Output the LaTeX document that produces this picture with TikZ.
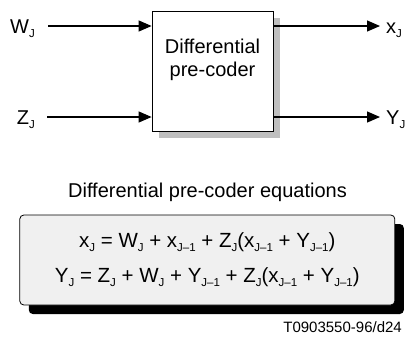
\documentclass[tikz,border=0pt]{standalone}
\usepackage{fontspec}
\setmainfont{Liberation Sans}
\usepackage{tikz}
\usetikzlibrary{positioning,calc,arrows.meta,shadows}
\tikzset{>={Triangle[length=13pt,width=11pt]}}
\newcommand*{\idx}[1]{\raisebox{-4pt}{\fontsize{11.5}{11.5}\selectfont #1}}

\begin{document}
\begin{tikzpicture}[x=1pt,y=-1pt,
  font=\fontsize{20}{23}\selectfont,
  sig/.style={->,line width=1.2pt},
  lbl/.style={inner sep=0pt,text height=14pt,text depth=0pt},
  coderbox/.style={draw,line width=0.8pt,fill=white,minimum width=121pt,minimum height=120pt,
    drop shadow={shadow xshift=7pt,shadow yshift=-7pt,fill=black!25,opacity=1}},
  eqbox/.style={draw,line width=0.8pt,fill=black!6,rounded corners=4pt,
    minimum width=375pt,minimum height=90pt,align=center,
    font=\fontsize{20.5}{35}\selectfont,
    drop shadow={shadow xshift=9pt,shadow yshift=-9pt,fill=black,opacity=1}}]
\useasboundingbox (0,0) rectangle (406,338);
% block
\node[coderbox] (coder) at (212.5,71) {};
\node[align=center] (codertext) at (212.5,60) {Differential\\pre-coder};
% inputs
\node[lbl,anchor=east] (win) at (35,26) {W\idx{J}};
\node[lbl,anchor=east] (zin) at (35,117) {Z\idx{J}};
\draw[sig] ([xshift=13pt]win.east) -- (win -| coder.west);
\draw[sig] ([xshift=12pt]zin.east) -- (zin -| coder.west);
% outputs
\node[lbl,anchor=west] (xout) at (386,26) {x\idx{J}};
\node[lbl,anchor=west] (yout) at (386,117) {Y\idx{J}};
\draw[sig] (xout -| coder.east) -- ([xshift=-6pt]xout.west);
\draw[sig] (yout -| coder.east) -- ([xshift=-6pt]yout.west);
% equations
\node[inner sep=0pt,anchor=base] (title) at (207.5,197) {Differential pre-coder equations};
\node[eqbox] (eqs) at (207.3,260)
  {x\idx{J} = W\idx{J} + x\idx{J–1} + Z\idx{J}(x\idx{J–1} + Y\idx{J–1})\\
   Y\idx{J} = Z\idx{J} + W\idx{J} + Y\idx{J–1} + Z\idx{J}(x\idx{J–1} + Y\idx{J–1})};
\node[inner sep=0pt,anchor=base east,font=\fontsize{15}{18}\selectfont] (tag) at (402,332) {T0903550-96/d24};
\end{tikzpicture}
\end{document}
